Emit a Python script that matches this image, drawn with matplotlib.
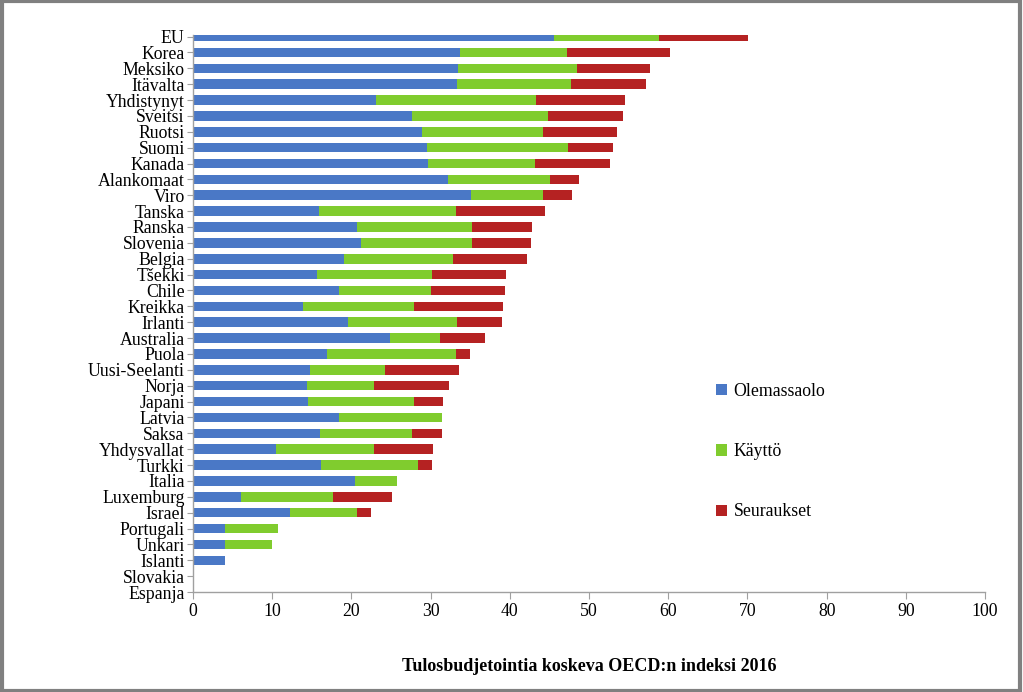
import matplotlib
matplotlib.use("Agg")
import matplotlib.pyplot as plt
import numpy as np
from matplotlib.patches import Rectangle

categories = ["EU", "Korea", "Meksiko", "Itävalta", "Yhdistynyt", "Sveitsi", "Ruotsi",
              "Suomi", "Kanada", "Alankomaat", "Viro", "Tanska", "Ranska", "Slovenia",
              "Belgia", "Tšekki", "Chile", "Kreikka", "Irlanti", "Australia", "Puola",
              "Uusi-Seelanti", "Norja", "Japani", "Latvia", "Saksa", "Yhdysvallat",
              "Turkki", "Italia", "Luxemburg", "Israel", "Portugali", "Unkari",
              "Islanti", "Slovakia", "Espanja"]

# cumulative ends
blue_end = [45.6, 33.7, 33.5, 33.3, 23.1, 27.7, 28.9, 29.5, 29.7, 32.2, 35.1, 15.9,
            20.7, 21.2, 19.1, 15.7, 18.4, 13.9, 19.6, 24.9, 16.9, 14.8, 14.4, 14.5,
            18.4, 16.0, 10.5, 16.2, 20.5, 6.1, 12.2, 4.0, 4.0, 4.0, 0.0, 0.0]
green_end = [58.8, 47.2, 48.5, 47.7, 43.3, 44.8, 44.2, 47.3, 43.2, 45.1, 44.2, 33.2,
             35.2, 35.2, 32.8, 30.2, 30.1, 27.9, 33.3, 31.2, 33.2, 24.2, 22.9, 27.9,
             31.4, 27.7, 22.9, 28.4, 25.8, 17.7, 20.7, 10.7, 10.0, 4.0, 0.0, 0.0]
red_end = [70.1, 60.2, 57.7, 57.2, 54.5, 54.3, 53.5, 53.0, 52.7, 48.7, 47.9, 44.4,
           42.8, 42.7, 42.2, 39.5, 39.4, 39.1, 39.0, 36.9, 35.0, 33.6, 32.3, 31.6,
           31.4, 31.4, 30.3, 30.2, 25.8, 25.1, 22.5, 10.7, 10.0, 4.0, 0.0, 0.0]

olemassaolo = np.array(blue_end)
kaytto = np.array(green_end) - np.array(blue_end)
seuraukset = np.array(red_end) - np.array(green_end)

series_names = ["Olemassaolo", "Käyttö", "Seuraukset"]
colors = ["#4a78c6", "#80cc2e", "#b52222"]
xticks = list(range(0, 101, 10))
xlabel = "Tulosbudjetointia koskeva OECD:n indeksi 2016"

plt.rcParams['font.family'] = ['Liberation Serif', 'DejaVu Serif']

fig = plt.figure(figsize=(10.23, 6.92), dpi=100)
ax = fig.add_axes([0.1887, 0.1445, 0.9629 - 0.1887, 0.949 - 0.1445])

y = np.arange(len(categories))
h = 0.6
ax.barh(y, olemassaolo, height=h, color=colors[0], label=series_names[0])
ax.barh(y, kaytto, left=olemassaolo, height=h, color=colors[1], label=series_names[1])
ax.barh(y, seuraukset, left=olemassaolo + kaytto, height=h, color=colors[2], label=series_names[2])

ax.set_ylim(len(categories) - 1, -0.08)
ax.set_xlim(0, 100)
ax.set_yticks(y)
ax.set_yticklabels(categories, fontsize=12.8)
ax.set_xticks(xticks)
ax.set_xticklabels([str(t) for t in xticks], fontsize=12.8)
ax.set_xlabel(xlabel, fontsize=13, fontweight='bold', labelpad=27)

for s in ["top", "right"]:
    ax.spines[s].set_visible(False)
for s in ["left", "bottom"]:
    ax.spines[s].set_color("#a0a0a0")
    ax.spines[s].set_linewidth(1.0)
ax.tick_params(axis='y', length=4, color="#a0a0a0", pad=2)
ax.tick_params(axis='x', length=5, color="#a0a0a0", pad=3)

leg = ax.legend(loc='upper left', bbox_to_anchor=(0.64, 0.404), frameon=False,
                fontsize=12.8, labelspacing=2.43, handlelength=0.6, handleheight=0.6,
                handletextpad=0.4)

fig.patches.append(Rectangle((0.0015, 0.002), 0.996, 0.996, transform=fig.transFigure,
                             fill=False, edgecolor="#808080", linewidth=3))

fig.savefig("out.png", dpi=100)
